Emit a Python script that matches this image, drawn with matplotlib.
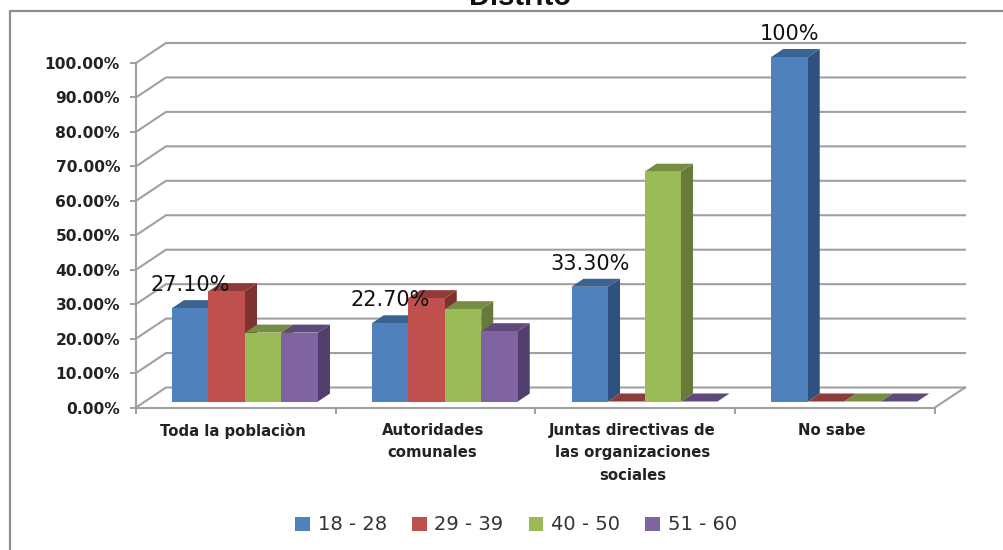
import matplotlib
matplotlib.use("Agg")
import matplotlib.pyplot as plt
from matplotlib.lines import Line2D
from matplotlib.patches import Patch
import numpy as np

# datos
categorias = ["Toda la poblaciòn", "Autoridades\ncomunales",
              "Juntas directivas de\nlas organizaciones\nsociales", "No sabe"]
edades = ["18 - 28", "29 - 39", "40 - 50", "51 - 60"]
v_18_28 = [27.1, 22.7, 33.3, 100]
v_29_39 = [32, 30, 0, 0]
v_40_50 = [20, 26.8, 66.7, 0]
v_51_60 = [20, 20.4, 0, 0]
etiquetas = ["27.10%", "22.70%", "33.30%", "100%"]

series = [v_18_28, v_29_39, v_40_50, v_51_60]
frente = ["#4F81BD", "#C0504D", "#9BBB59", "#8064A2"]
arriba = ["#3A6391", "#8F3B39", "#758E43", "#604A7B"]
lado = ["#2F5180", "#7E3230", "#667B3A", "#523F6E"]
gris = "#a0a0a0"

W, H = 1004, 550
fig = plt.figure(figsize=(W / 100, H / 100), dpi=100, facecolor="white")
ax = fig.add_axes([136 / W, 1 - 407.5 / H, 799 / W, 344.5 / H])
ax.set_xlim(0, 4)
ax.set_ylim(0, 100)
ax.patch.set_visible(False)

# pixeles a unidades de datos
px = 4 / 799
py = 100 / 344.5

# pared del fondo
fx, fy = 30 * px, 20 * py
for y in range(0, 101, 10):
    ax.plot([0, fx, 4 + fx], [y, y + fy, y + fy], color=gris, lw=1.5,
            clip_on=False, zorder=1, solid_joinstyle="miter")
ax.plot([4, 4 + fx], [0, fy], color=gris, lw=1.5, clip_on=False, zorder=1)

# barras
ancho = 36.5 * px
inicio = 36 * px
base = 6 * py
dx, dy = 12 * px, 8 * py
for g in range(len(categorias)):
    for s in range(len(series)):
        x0 = g + inicio + s * ancho
        x1 = x0 + ancho
        h = series[s][g]
        z = 3 + g * 10 + s
        if h > 0:
            ax.fill([x1, x1 + dx, x1 + dx, x1],
                    [base, base + dy, base + h + dy, base + h],
                    color=lado[s], lw=0, clip_on=False, zorder=z)
        ax.fill([x0, x1, x1 + dx, x0 + dx],
                [base + h, base + h, base + h + dy, base + h + dy],
                color=arriba[s], lw=0, clip_on=False, zorder=z)
        ax.bar(x0, h, width=ancho, bottom=base, align="edge", color=frente[s],
               lw=0, clip_on=False, zorder=z + 0.5)

# etiquetas de la primera serie
for g, txt in enumerate(etiquetas):
    ax.text(g + inicio + ancho / 2, base + v_18_28[g] + 23 * py, txt,
            ha="center", va="center", fontsize=15, color="#111111",
            clip_on=False, zorder=90)

# ejes
for lado_eje in ["top", "right"]:
    ax.spines[lado_eje].set_visible(False)
for lado_eje in ["left", "bottom"]:
    ax.spines[lado_eje].set_color(gris)
    ax.spines[lado_eje].set_linewidth(1.5)

ax.set_yticks(np.arange(0, 101, 10))
ax.set_yticklabels(["%.2f%%" % v for v in range(0, 101, 10)], fontsize=11.2,
                   fontweight="bold", color="#222222")
ax.tick_params(axis="y", length=4.5, width=1.4, color=gris, pad=7)

ax.set_xticks([0, 1, 2, 3, 4], minor=True)
ax.tick_params(axis="x", which="minor", length=4.5, width=1.4, color=gris)
ax.set_xticks(np.arange(4) + 0.485)
ax.set_xticklabels(categorias, fontsize=10.7, fontweight="bold", color="#222222",
                   family="DejaVu Sans", linespacing=1.63)
ax.tick_params(axis="x", which="major", length=0, pad=11)

# leyenda
ley = [Patch(facecolor=c, edgecolor="none") for c in frente]
fig.legend(ley, edades, loc="center", bbox_to_anchor=(516 / W, 1 - 525 / H), ncol=4,
           frameon=False, fontsize=14, labelcolor="#333333", handlelength=0.75,
           handleheight=0.75, handletextpad=0.4, columnspacing=1.3)

# marco exterior y titulo cortado
fig.add_artist(Line2D([9.5 / W, 9.5 / W, 1], [0, 1 - 11 / H, 1 - 11 / H], color="#8c8c8c", lw=1.6))
fig.text(520 / W, 1 - 5 / H, "Distrito", ha="center", va="baseline", fontsize=21,
         fontweight="bold", family="Liberation Sans", color="#111111")

fig.savefig("out.png", dpi=100)
